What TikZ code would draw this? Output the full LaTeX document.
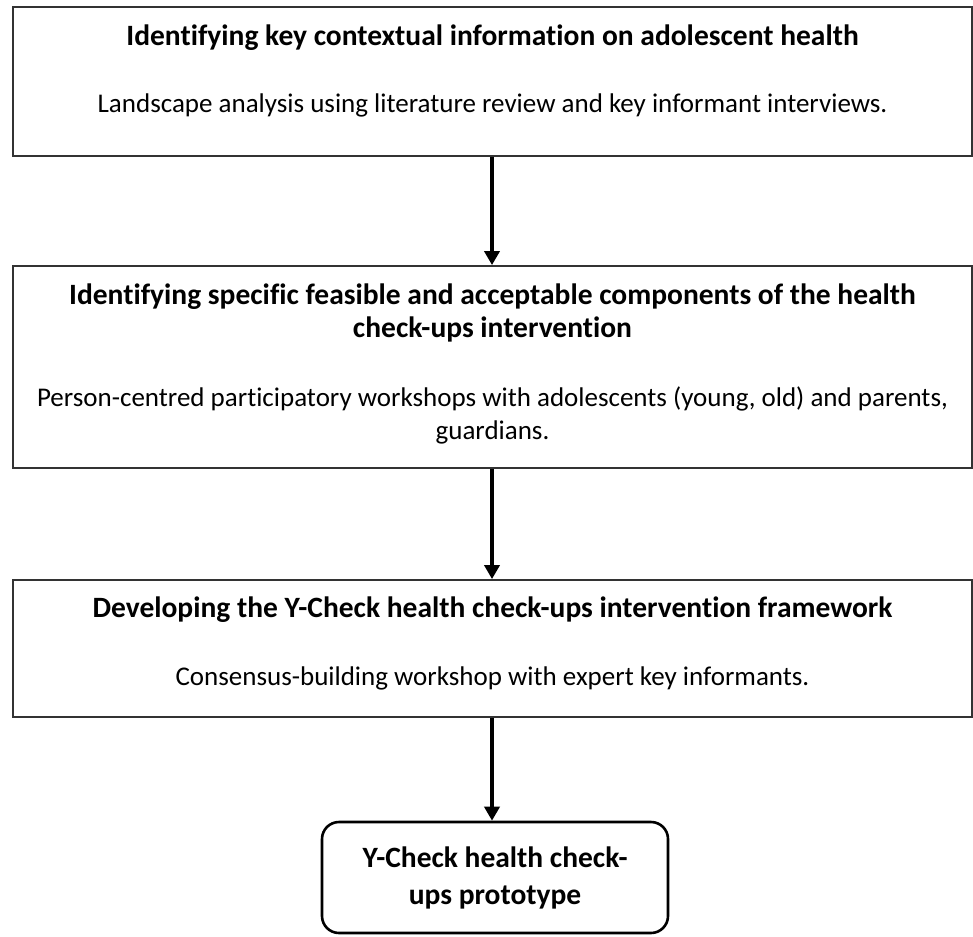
\documentclass[tikz,border=0pt]{standalone}
\usepackage{fontspec}
\setmainfont{Carlito}[Ligatures={NoCommon}]
\usepackage{tikz}
\usetikzlibrary{arrows.meta}

\newcommand{\stagetitle}[1]{{\fontsize{29.5}{33}\selectfont\bfseries #1}}
\newcommand{\lowpad}[1]{\rule[-#1]{0pt}{0pt}}
\tikzset{
	stagebox/.style={draw=black!80, line width=1.8pt, minimum width=959pt, inner sep=0pt, align=center, font=\fontsize{27}{33}\selectfont},
	endbox/.style={draw, line width=2.6pt, rounded corners=17pt, minimum width=346pt, minimum height=111pt, inner sep=0pt, align=center, font=\fontsize{29.5}{37}\selectfont\bfseries},
	flow/.style={line width=3.6pt, -{Triangle[length=14pt,width=15pt]}}
}

\begin{document}
\begin{tikzpicture}[x=1pt,y=-1pt]
			\useasboundingbox (0,0) rectangle (973,936);
			\node[stagebox, minimum height=149pt] (s1) at (492.5,81.5) {\stagetitle{Identifying key contextual information on adolescent health}\\[34pt]Landscape analysis using literature review and key informant interviews.\lowpad{26pt}};
			\node[stagebox, minimum height=202pt] (s2) at (492.5,367) {\stagetitle{Identifying specific feasible and acceptable components of the health}\\\stagetitle{check-ups intervention}\\[36pt]Person-centred participatory workshops with adolescents (young, old) and parents,\\guardians.\lowpad{10pt}};
			\node[stagebox, minimum height=137pt] (s3) at (492.5,648.5) {\stagetitle{Developing the Y-Check health check-ups intervention framework}\\[35pt]Consensus-building workshop with expert key informants.\lowpad{14pt}};
			\node[endbox] (proto) at (495,877.5) {Y-Check health check-\\ups prototype};
			\draw[flow] (s1.south -| 492,0) -- (s2.north -| 492,0);
			\draw[flow] (s2.south -| 492,0) -- (s3.north -| 492,0);
			\draw[flow] (s3.south -| 492,0) -- (proto.north -| 492,0);
\end{tikzpicture}
\end{document}
